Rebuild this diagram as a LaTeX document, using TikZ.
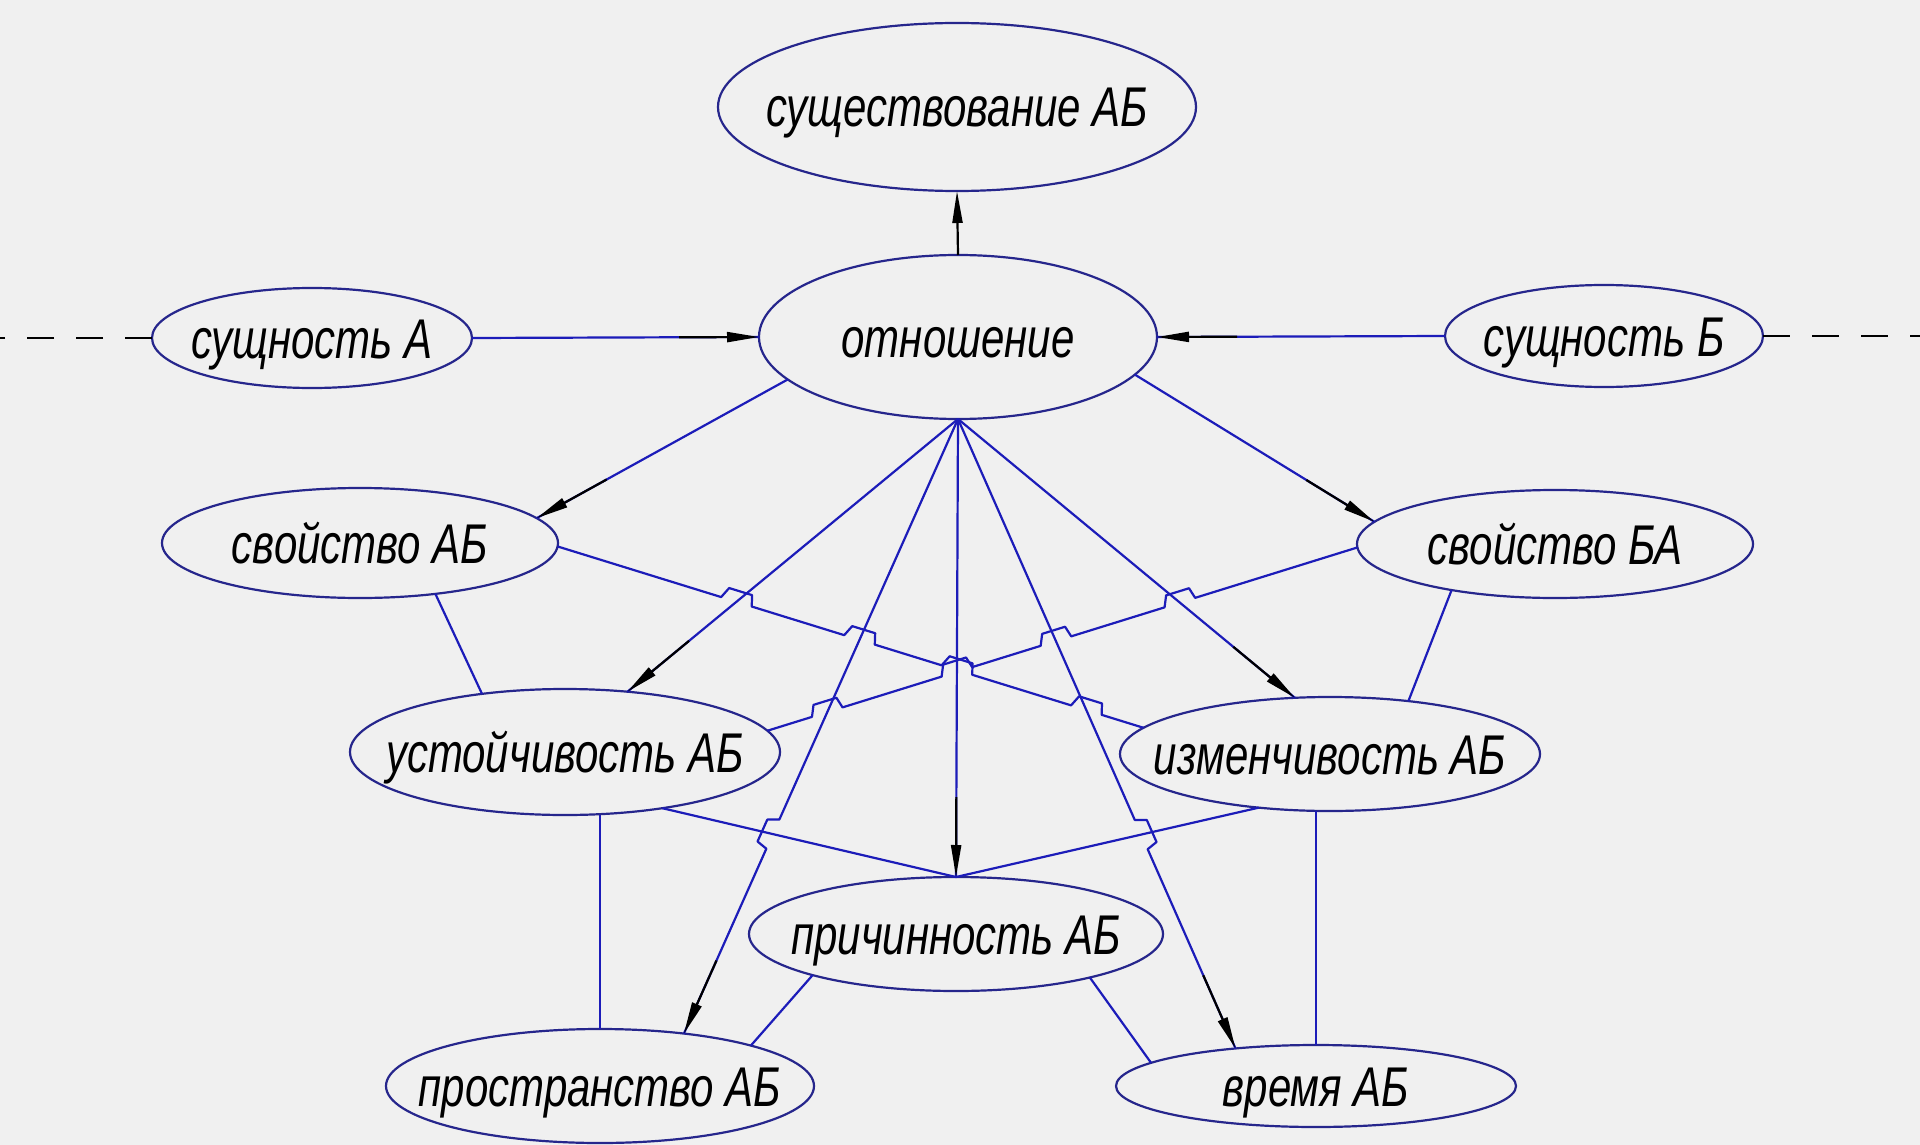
\documentclass[tikz,border=0pt]{standalone}
\usepackage{fontspec}
\newfontfamily\gost[FakeStretch=0.75]{Liberation Sans}
\usetikzlibrary{shapes.geometric,arrows.meta,calc,intersections}
\definecolor{paper}{RGB}{240,240,240}
\definecolor{rim}{RGB}{38,38,140}
\definecolor{wire}{RGB}{28,28,185}

% a small bridge where a line passes over another one:
% #1 crossing point, #2 end point of the line, #3 side of the bump (90 or -90)
\newcommand\hop[3]{%
  -- ($(#1)!16pt!180:(#2)$)
  -- ($(#1)!11pt!180:(#2) + (#1)!11pt!#3:(#2) - (#1)$)
  -- ($(#1)!13pt!(#2) + (#1)!11pt!#3:(#2) - (#1)$)
  -- ($(#1)!16pt!(#2)$)}

\tikzset{
  ell/.style={ellipse, draw=rim, line width=2.2pt, inner sep=0pt, outer sep=0pt,
    text=black, text height=40pt, text depth=0pt,
    font=\gost\itshape\fontsize{56}{60}\selectfont},
  link/.style={draw=wire, line width=2.2pt, line join=round},
  tip/.style={draw=black, line width=2.2pt, -{Triangle[length=32pt,width=10pt]}},
  dashline/.style={draw=black, line width=1.8pt, dash pattern=on 27pt off 22pt}
}

\begin{document}
\begin{tikzpicture}[x=1pt,y=-1pt]
\fill[paper] (0,0) rectangle (1920,1145);
\useasboundingbox (0,0) rectangle (1920,1145);

% concepts
\node[ell, minimum width=478pt, minimum height=168pt] (sush)   at (957,107)  {\makebox[0pt]{существование АБ}};
\node[ell, minimum width=398pt, minimum height=164pt] (otn)    at (958,337)  {\makebox[0pt]{отношение}};
\node[ell, minimum width=320pt, minimum height=100pt] (sA)     at (312,338)  {\makebox[0pt]{сущность А}};
\node[ell, minimum width=318pt, minimum height=102pt] (sB)     at (1604,336) {\makebox[0pt]{сущность Б}};
\node[ell, minimum width=396pt, minimum height=110pt] (svAB)   at (360,543)  {\makebox[0pt]{свойство АБ}};
\node[ell, minimum width=396pt, minimum height=108pt] (svBA)   at (1555,544) {\makebox[0pt]{свойство БА}};
\node[ell, minimum width=430pt, minimum height=126pt] (ust)    at (565,752)  {\makebox[0pt]{устойчивость АБ}};
\node[ell, minimum width=420pt, minimum height=114pt] (izm)    at (1330,754) {\makebox[0pt]{изменчивость АБ}};
\node[ell, minimum width=414pt, minimum height=114pt] (prich)  at (956,934)  {\makebox[0pt]{причинность АБ}};
\node[ell, minimum width=428pt, minimum height=114pt] (prostr) at (600,1086) {\makebox[0pt]{пространство АБ}};
\node[ell, minimum width=400pt, minimum height=82pt]  (vrem)   at (1316,1086) {\makebox[0pt]{время АБ}};

% guide paths for the crossings
\path[name path=l1] (svAB.-1) -- (izm.172);
\path[name path=l2] (ust.6) -- (svBA.181);
\path[name path=l7] (ust.-30) -- (prich.north);
\path[name path=l8] (izm.217) -- (prich.north);
\path[name path=r1] (otn.south) -- (ust.44);
\path[name path=r2] (otn.south) -- (prostr.32);
\path[name path=r3] (otn.south) -- (prich.north);
\path[name path=r4] (otn.south) -- (vrem.155);
\path[name path=r5] (otn.south) -- (izm.122);
\path[name intersections={of=l1 and r1, by=c11}];
\path[name intersections={of=l1 and r2, by=c12}];
\path[name intersections={of=l1 and r3, by=c13}];
\path[name intersections={of=l1 and r4, by=c14}];
\path[name intersections={of=l2 and r2, by=c22}];
\path[name intersections={of=l2 and r3, by=c23}];
\path[name intersections={of=l2 and r4, by=c24}];
\path[name intersections={of=l2 and r5, by=c25}];
\path[name intersections={of=r2 and l7, by=c72}];
\path[name intersections={of=r4 and l8, by=c84}];

% undirected links
\draw[link] (svAB.-1) \hop{c11}{izm.172}{90} \hop{c12}{izm.172}{90}
  \hop{c13}{izm.172}{90} \hop{c14}{izm.172}{90} -- (izm.172);
\draw[link] (ust.6) \hop{c22}{svBA.181}{90} \hop{c23}{svBA.181}{90}
  \hop{c24}{svBA.181}{90} \hop{c25}{svBA.181}{90} -- (svBA.181);
\draw[link] (ust.-30) -- (prich.north);
\draw[link] (izm.217) -- (prich.north);
\draw[link] (svAB.-34) -- (ust.145);
\draw[link] (svBA.204) -- (izm.34);
\draw[link] (prostr.north) -- (prostr.north |- ust.south);
\draw[link] (vrem.north) -- (vrem.north |- izm.south);
\draw[link] (prich.196) -- (prostr.15);
\draw[link] (prich.-18) -- (vrem.172);

% directed links
\draw[link] (sA.east) -- (otn.west);
\draw[link] (sB.west) -- (otn.east);
\draw[link] (otn.194) -- (svAB.8);
\draw[link] (otn.-12) -- (svBA.173);
\draw[link] (otn.south) -- (ust.44);
\draw[link] (otn.south) \hop{c72}{prostr.32}{-90} -- (prostr.32);
\draw[link] (otn.south) -- (prich.north);
\draw[link] (otn.south) \hop{c84}{vrem.155}{90} -- (vrem.155);
\draw[link] (otn.south) -- (izm.122);

% arrow ends
\draw[tip] (otn.north) -- (sush.south);
\draw[tip] ($(otn.west)!80pt!(sA.east)$) -- (otn.west);
\draw[tip] ($(otn.east)!80pt!(sB.west)$) -- (otn.east);
\draw[tip] ($(svAB.8)!80pt!(otn.194)$) -- (svAB.8);
\draw[tip] ($(svBA.173)!80pt!(otn.-12)$) -- (svBA.173);
\draw[tip] ($(ust.44)!80pt!(otn.south)$) -- (ust.44);
\draw[tip] ($(prostr.32)!80pt!(otn.south)$) -- (prostr.32);
\draw[tip] ($(prich.north)!80pt!(otn.south)$) -- (prich.north);
\draw[tip] ($(vrem.155)!80pt!(otn.south)$) -- (vrem.155);
\draw[tip] ($(izm.122)!80pt!(otn.south)$) -- (izm.122);

% open ends
\coordinate (farL) at (0,338);
\coordinate (farR) at (1920,336);
\draw[dashline] (sA.west) -- (farL);
\draw[dashline] (sB.east) -- (farR);
\end{tikzpicture}
\end{document}
